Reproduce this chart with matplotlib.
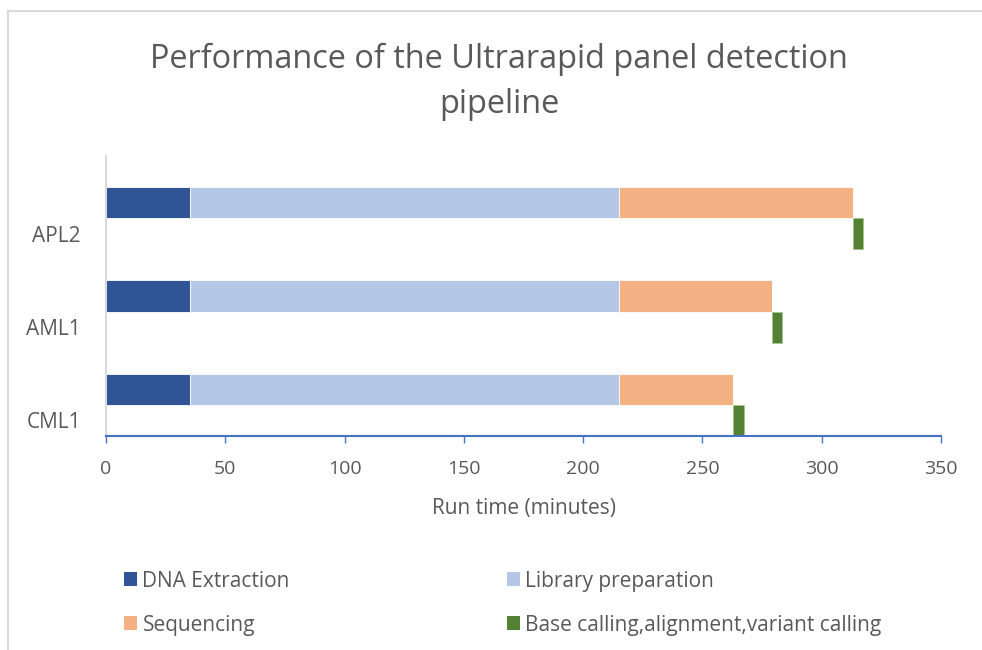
import matplotlib
matplotlib.use("Agg")
import matplotlib.pyplot as plt
from matplotlib.patches import Rectangle, Patch
import numpy as np

plt.rcParams['font.family'] = ['Open Sans', 'DejaVu Sans']

categories = ["CML1", "AML1", "APL2"]
dna_extraction = [35, 35, 35]
library_prep = [180, 180, 180]
sequencing = [48, 64, 98]
analysis = [4.5, 4.5, 4.5]

series_names = ["DNA Extraction", "Library preparation", "Sequencing",
                "Base calling,alignment,variant calling"]
colors = ["#2F5597", "#B4C7E7", "#F4B183", "#548235"]
text_color = "#595959"

fig = plt.figure(figsize=(9.82, 6.5), dpi=100)
ax = fig.add_axes([106/982, 1-436/650, (941-106)/982, (436-156)/650])

y = np.arange(len(categories))
h = 1/3
dna = np.array(dna_extraction, float)
lib = np.array(library_prep, float)
seq = np.array(sequencing, float)
ana = np.array(analysis, float)

ax.barh(y, dna, height=h, color=colors[0], edgecolor="white", linewidth=0.6)
ax.barh(y, lib, left=dna, height=h, color=colors[1], edgecolor="white", linewidth=0.6)
ax.barh(y, seq, left=dna+lib, height=h, color=colors[2], edgecolor="white", linewidth=0.6)
ax.barh(y - h, ana, left=dna+lib+seq, height=h, color=colors[3],
        edgecolor="#A9C08F", linewidth=0.6)

ax.set_xlim(0, 350)
ax.set_ylim(-0.5, 2.5)
ax.set_xticks(np.arange(0, 351, 50))
ax.set_yticks(y - h)
ax.set_yticklabels(categories)

for s in ["top", "right"]:
    ax.spines[s].set_visible(False)
ax.spines["bottom"].set_color("#4472C4")
ax.spines["bottom"].set_linewidth(1.5)
ax.spines["left"].set_color("#D9D9D9")
ax.spines["left"].set_linewidth(1.5)

ax.tick_params(axis="x", colors="#4472C4", length=5, width=1.0, direction="out",
               labelcolor=text_color, labelsize=14, pad=12)
ax.tick_params(axis="y", length=0, labelcolor=text_color, labelsize=15, pad=18)

ax.set_xlabel("Run time (minutes)", fontsize=15, color=text_color, labelpad=15)

fig.text(499/982, 1-82/650, "Performance of the Ultrarapid panel detection\npipeline",
         ha="center", va="center", fontsize=23.4, color=text_color, linespacing=1.45)

# outer chart frame
fig.patches.append(Rectangle((8/982, -0.1), 1.2, 1 - 11/650 + 0.1,
                             transform=fig.transFigure, fill=False,
                             edgecolor="#D9D9D9", linewidth=1.5))

handles = [Patch(facecolor=colors[0]), Patch(facecolor=colors[2]),
           Patch(facecolor=colors[1]), Patch(facecolor=colors[3])]
labels = [series_names[0], series_names[2], series_names[1], series_names[3]]
leg = fig.legend(handles, labels, ncol=2, loc="upper left",
                 bbox_to_anchor=(105/982, 1-552/650), frameon=False,
                 fontsize=15, handlelength=0.65, handleheight=0.65,
                 handletextpad=0.25, columnspacing=10.4, labelspacing=1.1)
for t in leg.get_texts():
    t.set_color(text_color)

fig.savefig("out.png", dpi=100, facecolor="white")
